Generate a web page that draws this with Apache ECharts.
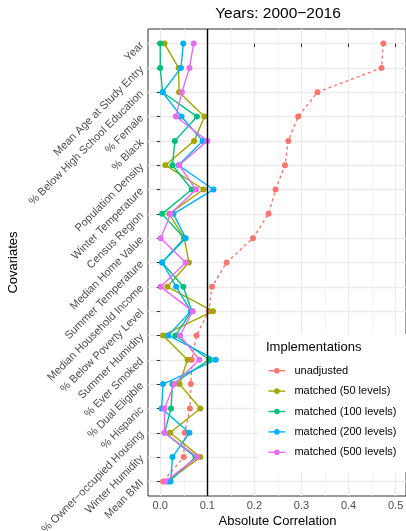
<!DOCTYPE html>
<html><head><meta charset="utf-8">
<script src="https://cdn.jsdelivr.net/npm/echarts@6/dist/echarts.min.js"></script>
<style>html,body{margin:0;padding:0;background:#fff}#c{width:406px;height:531px}</style>
</head><body><div id="c"></div>
<script>
const categories = ['Year','Mean Age at Study Entry','% Below High School Education','% Female','% Black','Population Density','Winter Temperature','Census Region','Median Home Value','Summer Temperature','Median Household Income','% Below Poverty Level','Summer Humidity','% Ever Smoked','% Dual Eligible','% Hispanic','% Owner\u2212occupied Housing','Winter Humidity','Mean BMI'];
const seriesNames = ['unadjusted','matched (50 levels)','matched (100 levels)','matched (200 levels)','matched (500 levels)'];
const unadjusted = [0.474,0.470,0.334,0.293,0.272,0.265,0.245,0.230,0.197,0.141,0.110,0.103,0.077,0.067,0.065,0.063,0.052,0.050,0.006];
const matched50  = [0.009,0.039,0.040,0.094,0.072,0.011,0.092,0.019,0.051,0.061,0.015,0.112,0.006,0.058,0.041,0.085,0.021,0.085,0.015];
const matched100 = [0.000,0.000,0.005,0.078,0.031,0.026,0.067,0.004,0.051,0.004,0.049,0.067,0.032,0.104,0.026,0.023,0.009,0.075,0.019];
const matched200 = [0.049,0.044,0.005,0.045,0.090,0.039,0.113,0.028,0.054,0.004,0.034,0.065,0.017,0.118,0.006,0.003,0.062,0.026,0.022];
const matched500 = [0.071,0.062,0.046,0.033,0.100,0.040,0.076,0.022,0.001,0.054,0.001,0.069,0.042,0.083,0.030,0.009,0.009,0.079,0.011];
const xTicks = [0,0.1,0.2,0.3,0.4,0.5];
const xTickLabels = ['0.0','0.1','0.2','0.3','0.4','0.5'];
const xMinorTicks = [0.05,0.15,0.25,0.35,0.45];
const thresholdValue = 0.1;
const titleText = 'Years: 2000\u22122016';
const xTitle = 'Absolute Correlation';
const yTitle = 'Covariates';
const legendTitle = 'Implementations';

const colors = ['#F8766D','#A3A500','#00BF7D','#00B0F6','#E76BF3'];
const FONT = '"Liberation Sans", Arial, Helvetica, sans-serif';
const allValues = [unadjusted, matched50, matched100, matched200, matched500];
const rowIdx = categories.map((c,i)=>i);

const chart = echarts.init(document.getElementById('c'), null, {renderer:'canvas'});
const series = allValues.map((vals, s) => {
  const o = {
    name: seriesNames[s], type: 'line', data: vals.map((v,i)=>[v,i]),
    symbol: 'circle', symbolSize: 6, showSymbol: true,
    lineStyle: {width: 1.4, color: colors[s], type: s===0 ? [3,3] : 'solid'},
    itemStyle: {color: colors[s]}, color: colors[s],
    animation: false, z: 2 + s*0.01, emphasis: {disabled: true}
  };
  if (s === 0) {
    o.markLine = {silent: true, symbol: ['none','none'], label: {show:false},
      lineStyle: {color:'#000', width: 1.4, type:'solid'},
      data: [{xAxis: thresholdValue}], animation: false};
  }
  return o;
});

chart.setOption({
  backgroundColor: '#fff',
  animation: false,
  textStyle: {fontFamily: FONT},
  grid: {left: 148, right: 0, top: 29, bottom: 35, show: true, borderColor: '#333', borderWidth: 1, backgroundColor: '#fff', containLabel: false, outerBoundsMode: 'none'},
  xAxis: [{
    type: 'value', min: -0.026, max: 0.522,
    axisLine: {show: false},
    axisTick: {show: true, length: 3.5, lineStyle: {color:'#333', width: 1}, customValues: xTicks},
    axisLabel: {show: true, customValues: xTicks, margin: 4.5, fontSize: 11, color: '#4D4D4D', fontFamily: FONT,
      formatter: v => xTickLabels[xTicks.findIndex(t => Math.abs(t - v) < 1e-9)] || ''},
    splitLine: {show: true, lineStyle: {color: '#EBEBEB', width: 1.3}}
  },{
    type: 'value', min: -0.026, max: 0.522, position: 'bottom',
    axisLine: {show: false}, axisLabel: {show: false},
    axisTick: {show: false, customValues: xMinorTicks},
    splitLine: {show: true, lineStyle: {color: '#F2F2F2', width: 0.8}}
  }],
  yAxis: {
    type: 'value', inverse: true, min: -0.6, max: 18.6,
    axisLine: {show: false},
    axisTick: {show: true, length: 3.5, lineStyle: {color:'#333', width: 1}, customValues: rowIdx},
    axisLabel: {show: true, customValues: rowIdx, rotate: 45, margin: 6, fontSize: 11, color: '#4D4D4D', fontFamily: FONT,
      formatter: v => categories[Math.round(v)] || ''},
    splitLine: {show: true, lineStyle: {color: '#EBEBEB', width: 1.3}}
  },
  legend: {
    orient: 'vertical', left: 267.7, top: 360.5, padding: 0, itemWidth: 17, itemHeight: 7, itemGap: 0,
    selectedMode: false, z: 6,
    textStyle: {fontSize: 11, color: '#000', lineHeight: 20.4, padding: [0,0,0,4], fontFamily: FONT},
    data: seriesNames.map((n,i) => ({name: n, lineStyle: {type: 'solid', width: 1.4, color: colors[i]}}))
  },
  graphic: [
    {type: 'rect', z: 5, shape: {x: 258, y: 334, width: 160, height: 138}, style: {fill: '#fff'}},
    {type: 'text', z: 6, style: {x: 266, y: 347, text: legendTitle, fontSize: 13, fill: '#000', fontFamily: FONT, textVerticalAlign: 'middle'}},
    {type: 'text', z: 6, style: {x: 278, y: 14, text: titleText, fontSize: 15.5, fill: '#000', fontFamily: FONT, textAlign: 'center', textVerticalAlign: 'middle'}},
    {type: 'text', z: 6, style: {x: 277.5, y: 521, text: xTitle, fontSize: 13, fill: '#000', fontFamily: FONT, textAlign: 'center', textVerticalAlign: 'middle'}},
    {type: 'text', z: 6, x: 13.5, y: 262.5, rotation: Math.PI/2, style: {x: 0, y: 0, text: yTitle, fontSize: 13, fill: '#000', fontFamily: FONT, textAlign: 'center', textVerticalAlign: 'middle'}}
  ],
  series: series
});
</script></body></html>
